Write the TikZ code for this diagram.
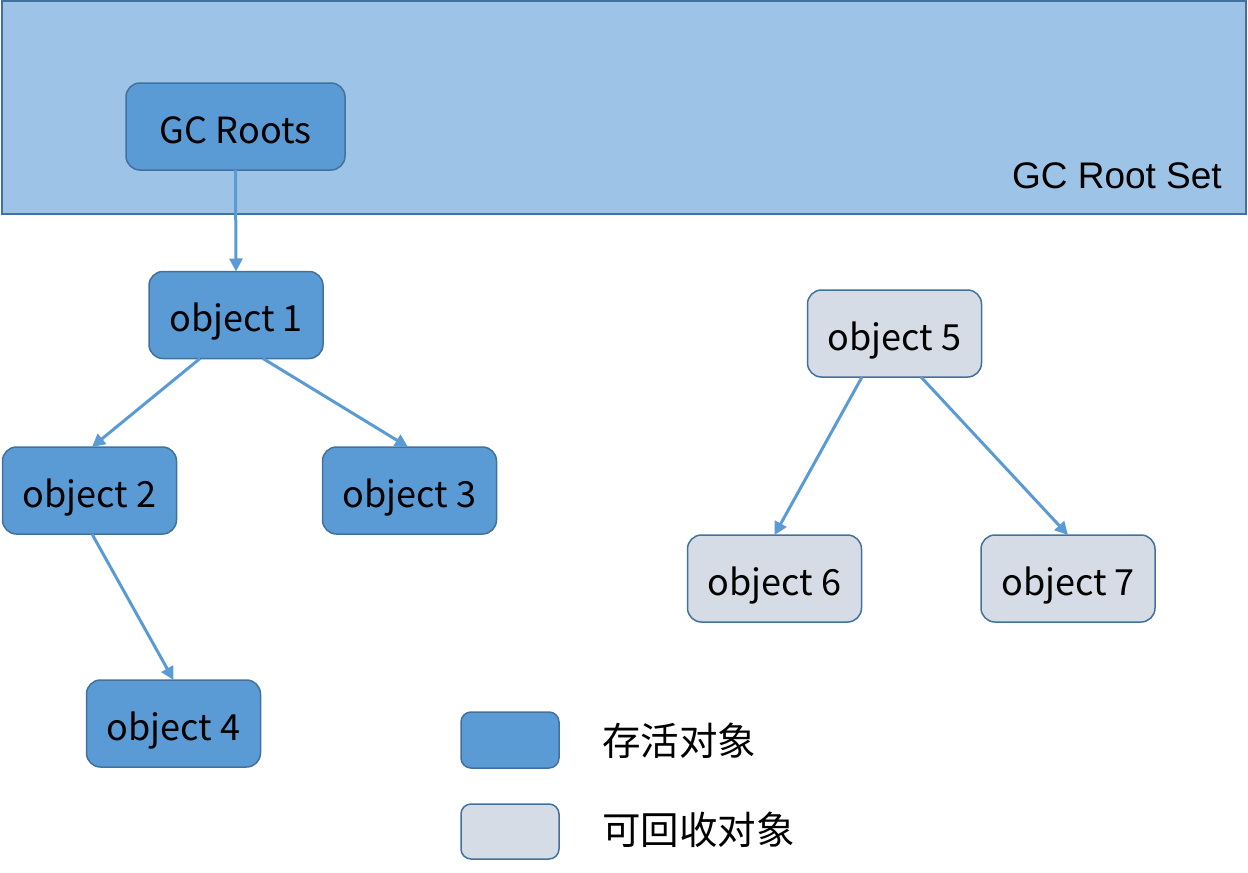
\documentclass[tikz,border=0pt]{standalone}
\usepackage{fontspec}
\setmainfont{Noto Sans CJK SC}
\newfontfamily\arialfont{Liberation Sans}
\usetikzlibrary{arrows.meta,positioning}
\definecolor{liveblue}{HTML}{5B9BD5}
\definecolor{setblue}{HTML}{9DC3E6}
\definecolor{edgeblue}{HTML}{41719C}
\definecolor{deadgray}{HTML}{D6DCE5}
\newdimen\hdim
\newdimen\wdim
\hdim=87pt
\wdim=174pt
\tikzstyle{element}=[
  draw=edgeblue,
  fill=liveblue,
  font={\fontsize{36}{42}\selectfont},
  inner sep=0pt,
  line width=1.5pt,
  minimum height=\hdim,
  minimum width=\wdim,
  outer sep=0pt,
  rectangle,
  rounded corners=14pt,
  text centered,
  text height=33pt,
  text depth=0pt,
]
\tikzstyle{dead}=[
  element,
  fill=deadgray,
]
\tikzstyle{arrow}=[
  draw=liveblue,
  line width=3pt,
]
\tikzstyle{legendtext}=[
  anchor=west,
  font={\fontsize{38.5}{44}\selectfont},
  inner sep=0pt,
]
\tikzset{
  >={Triangle[length=13pt,width=13pt]},
}
\begin{document}
\begin{tikzpicture}[x=1pt,y=-1pt]
      \useasboundingbox (0,0) rectangle (1248,873);
      %% root set band
      \node (rootset) [draw=edgeblue, fill=setblue, line width=1.5pt,
        minimum width=1244pt, minimum height=213pt, inner sep=0pt] at (624,107.5) {};
      \node (setlabel) [anchor=base east, inner sep=0pt,
        font={\arialfont\fontsize{37}{44}\selectfont}] at (1222,188) {GC Root Set};
      \node (roots) [element, minimum width=219pt] at (235.5,126.5) {GC Roots};
      %% live objects
      \node (obj1) [element] at (236,315) {object 1};
      \node (obj2) [element] at (89.5,490.5) {object 2};
      \node (obj3) [element] at (409.5,490.5) {object 3};
      \node (obj4) [element] at (173.5,723.5) {object 4};
      %% unreachable objects
      \node (obj5) [dead] at (894.5,333.5) {object 5};
      \node (obj6) [dead] at (774.5,578.5) {object 6};
      \node (obj7) [dead] at (1068,578.5) {object 7};
      %% legend
      \node (livekey) [element, minimum width=98pt, minimum height=56pt,
        rounded corners=10pt] at (510,740) {};
      \node (deadkey) [dead, minimum width=98pt, minimum height=55pt,
        rounded corners=10pt] at (510,831.5) {};
      \node (livetext) [legendtext] at (602,741) {存活对象};
      \node (deadtext) [legendtext] at (602,830) {可回收对象};
      %%
      \draw [->, arrow] (roots.south) -- (obj1.north);
      \draw [->, arrow] ([xshift=-36pt]obj1.south) -- ([xshift=2.5pt]obj2.north);
      \draw [->, arrow] ([xshift=27pt]obj1.south) -- ([xshift=-1.5pt]obj3.north);
      \draw [->, arrow] ([xshift=2.5pt]obj2.south) -- (obj4.north);
      \draw [->, arrow] ([xshift=-32.5pt]obj5.south) -- (obj6.north);
      \draw [->, arrow] ([xshift=26.5pt]obj5.south) -- (obj7.north);
    \end{tikzpicture}
\end{document}
